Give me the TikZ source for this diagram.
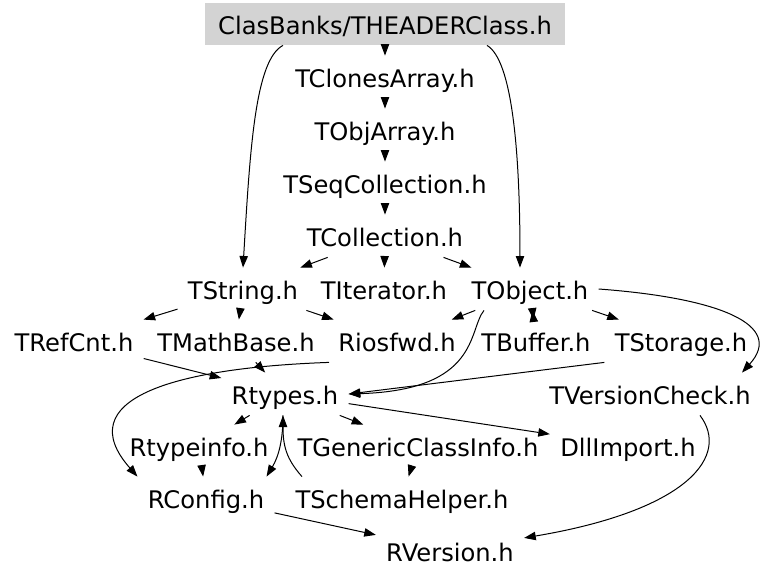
\documentclass[tikz,border=0pt]{standalone}
\usepackage{fontspec}
\setmainfont{DejaVu Sans}
\usetikzlibrary{arrows.meta}
\definecolor{rootgray}{RGB}{211,211,211}

\begin{document}
\begin{tikzpicture}[x=0.5pt,y=-0.5pt,
    file/.style={inner xsep=5pt,inner ysep=0pt,minimum height=21pt,
      text height=10.6pt,text depth=0.6pt,font=\fontsize{12.1}{14}\selectfont},
    inc/.style={line width=0.5pt,-{Triangle[length=5.8pt,width=4.2pt]}}]
  \useasboundingbox (0,0) rectangle (768,579);

  \node[file,fill=rootgray,minimum width=180pt] (root) at (385,24) {ClasBanks/THEADERClass.h};
  \node[file] (clones) at (385,77) {TClonesArray.h};
  \node[file] (objarray) at (385,130) {TObjArray.h};
  \node[file] (seqcoll) at (385,183) {TSeqCollection.h};
  \node[file] (coll) at (385,236) {TCollection.h};
  \node[file] (string) at (243,289) {TString.h};
  \node[file] (iter) at (384,289) {TIterator.h};
  \node[file] (object) at (530,289) {TObject.h};
  \node[file] (refcnt) at (74,341) {TRefCnt.h};
  \node[file] (mathbase) at (236,341) {TMathBase.h};
  \node[file] (iosfwd) at (397,341) {Riosfwd.h};
  \node[file] (buffer) at (536,341) {TBuffer.h};
  \node[file] (storage) at (681,341) {TStorage.h};
  \node[file] (rtypes) at (285,394) {Rtypes.h};
  \node[file] (vcheck) at (650,394) {TVersionCheck.h};
  \node[file] (typeinfo) at (199,446) {Rtypeinfo.h};
  \node[file] (genclass) at (418,446) {TGenericClassInfo.h};
  \node[file] (dllimport) at (628,446) {DllImport.h};
  \node[file] (config) at (206,498) {RConfig.h};
  \node[file] (schema) at (402,498) {TSchemaHelper.h};
  \node[file] (version) at (450,551) {RVersion.h};

  \draw[inc] (root) -- (clones);
  \draw[inc] ([xshift=-51pt]root.south) .. controls (255,60) and (250,150) .. ([xshift=0pt]string.north);
  \draw[inc] ([xshift=51pt]root.south) .. controls (512,60) and (520,150) .. ([xshift=-5pt]object.north);
  \draw[inc] (clones) -- (objarray);
  \draw[inc] (objarray) -- (seqcoll);
  \draw[inc] (seqcoll) -- (coll);
  \draw[inc] (coll) -- (string);
  \draw[inc] (coll) -- (iter);
  \draw[inc] (coll) -- (object);

  \draw[inc] (string) -- (refcnt);
  \draw[inc] (string) -- (mathbase);
  \draw[inc] (string) -- (iosfwd);
  \draw[inc] (object) -- (iosfwd);
  \draw[inc] ([xshift=-23pt]object.south) .. controls (468,330) and (480,390) .. (rtypes.east);
  \draw[inc] (object) -- (buffer);
  \draw[inc] (buffer) -- (object);
  \draw[inc] (object) -- (storage);
  \draw[inc] (object.east) .. controls (720,298) and (785,325) .. ([xshift=46pt]vcheck.north);

  \draw[inc] (refcnt) -- (rtypes);
  \draw[inc] (mathbase) -- (rtypes);
  \draw[inc] ([xshift=-34pt]iosfwd.south) .. controls (170,368) and (70,400) .. (config.north west);
  \draw[inc] (storage.south west) -- (rtypes.east);

  \draw[inc] (rtypes) -- (typeinfo);
  \draw[inc] ([xshift=-1pt]rtypes.south) .. controls +(0,25) and +(12,-20) .. ([xshift=-4pt]config.north east);
  \draw[inc] (rtypes) -- (genclass);
  \draw[inc] (rtypes) -- (dllimport);
  \draw[inc] ([xshift=-50pt]schema.north) .. controls +(-16,-18) and +(0,30) .. ([xshift=-1pt]rtypes.south);
  \draw[inc] (typeinfo) -- (config);
  \draw[inc] (genclass) -- (schema);
  \draw[inc] (config) -- (version);
  \draw[inc] ([xshift=25pt]vcheck.south) .. controls (730,455) and (690,510) .. (version.10);
\end{tikzpicture}
\end{document}
